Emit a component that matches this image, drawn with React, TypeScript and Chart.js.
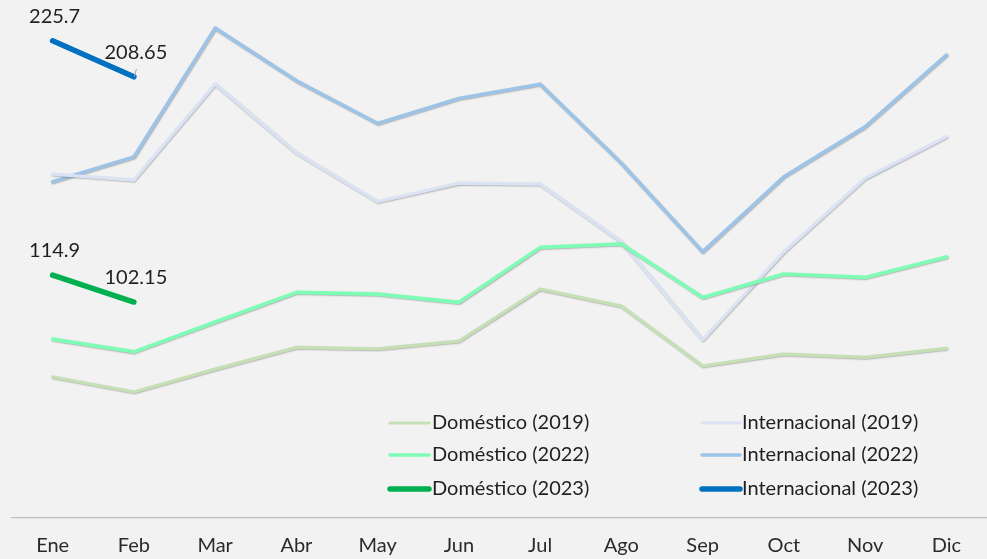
import { useEffect, useRef } from 'react';
import { Chart, registerables } from 'chart.js';

Chart.register(...registerables);

const months = ['Ene', 'Feb', 'Mar', 'Abr', 'May', 'Jun', 'Jul', 'Ago', 'Sep', 'Oct', 'Nov', 'Dic'];

const domestico2019 = [66.7, 59.6, 70.4, 80.7, 80.0, 83.7, 108.3, 100.2, 71.9, 77.5, 76.0, 80.2];
const domestico2022 = [84.6, 78.6, 92.7, 106.7, 105.9, 102.0, 128.0, 129.6, 104.3, 115.4, 113.8, 123.5];
const domestico2023 = [114.9, 102.15];
const internacional2019 = [162.6, 159.8, 205.2, 172.7, 149.6, 158.3, 157.9, 130.6, 84.2, 125.8, 160.6, 180.3];
const internacional2022 = [159.0, 170.8, 231.7, 206.8, 186.6, 198.4, 205.2, 167.8, 125.9, 161.4, 185.0, 218.9];
const internacional2023 = [225.7, 208.65];

const FONT = 'Lato, "Open Sans", sans-serif';
const TEXT = '#1f1f1f';

const legendPlugin = {
  id: 'customLegend',
  afterDraw(chart: any) {
    const ctx = chart.ctx;
    const cols = [
      { lineX0: 390, lineX1: 429, textX: 432, items: [0, 1, 2] },
      { lineX0: 702, lineX1: 740, textX: 742, items: [3, 4, 5] },
    ];
    const rows = [423, 455, 489];
    ctx.save();
    ctx.font = `20px ${FONT}`;
    ctx.textBaseline = 'middle';
    ctx.textAlign = 'left';
    cols.forEach((c) => {
      c.items.forEach((di, r) => {
        const ds = chart.data.datasets[di];
        const y = rows[r];
        ctx.strokeStyle = ds.borderColor;
        ctx.lineWidth = ds.borderWidth;
        ctx.lineCap = 'round';
        ctx.beginPath();
        ctx.moveTo(c.lineX0, y);
        ctx.lineTo(c.lineX1, y);
        ctx.stroke();
        ctx.fillStyle = TEXT;
        ctx.fillText(ds.label, c.textX, y);
      });
    });
    ctx.restore();
  },
};

const labelPlugin = {
  id: 'pointLabels',
  afterDatasetsDraw(chart: any) {
    const ctx = chart.ctx;
    ctx.save();
    ctx.font = `20px ${FONT}`;
    ctx.textAlign = 'center';
    ctx.textBaseline = 'middle';
    chart.data.datasets.forEach((ds: any, di: number) => {
      if (!ds.showLabels) return;
      const meta = chart.getDatasetMeta(di);
      meta.data.forEach((pt: any, i: number) => {
        const v = ds.data[i];
        if (ds.leader && i === 1) {
          ctx.strokeStyle = '#a6a6a6';
          ctx.lineWidth = 1;
          ctx.beginPath();
          ctx.moveTo(pt.x + 0.5, pt.y);
          ctx.lineTo(pt.x + 2.5, pt.y - 8);
          ctx.stroke();
        }
        ctx.fillStyle = TEXT;
        ctx.fillText(String(v), pt.x + 2, pt.y - 24.5);
      });
    });
    ctx.restore();
  },
};

const shadowPlugin = {
  id: 'lineShadow',
  beforeDatasetDraw(chart: any, args: any) {
    const ds = chart.data.datasets[args.index];
    const ctx = chart.ctx;
    ctx.save();
    if (ds.shadow) {
      ctx.shadowColor = 'rgba(0,0,0,0.28)';
      ctx.shadowBlur = 1.5;
      ctx.shadowOffsetX = 0.6;
      ctx.shadowOffsetY = 0.8;
    }
  },
  afterDatasetDraw(chart: any) {
    chart.ctx.restore();
  },
};

export default function App() {
  const ref = useRef<HTMLCanvasElement>(null);

  useEffect(() => {
    document.body.style.margin = '0';
    document.body.style.background = '#f2f2f2';
    const line = (label: string, data: number[], color: string, width: number, extra: any = {}) => ({
      label,
      data,
      borderColor: color,
      backgroundColor: color,
      borderWidth: width,
      pointRadius: 0,
      pointHoverRadius: 0,
      tension: 0,
      fill: false,
      borderJoinStyle: 'round',
      borderCapStyle: 'round',
      ...extra,
    });
    const chart = new Chart(ref.current!, {
      type: 'line',
      data: {
        labels: months,
        datasets: [
          line('Doméstico (2019)', domestico2019, '#c5e0b4', 3.2, { shadow: true }),
          line('Doméstico (2022)', domestico2022, '#7dfdb6', 3.6, { shadow: true }),
          line('Doméstico (2023)', domestico2023, '#00b050', 5.5, { showLabels: true }),
          line('Internacional (2019)', internacional2019, '#dae3f3', 3.2, { shadow: true }),
          line('Internacional (2022)', internacional2022, '#9dc3e6', 3.6, { shadow: true }),
          line('Internacional (2023)', internacional2023, '#0070c0', 5.5, { showLabels: true, leader: true }),
        ] as any,
      },
      options: {
        responsive: false,
        animation: false,
        layout: { padding: { left: 12, right: 0, top: 0, bottom: 0 } },
        plugins: {
          legend: { display: false },
          tooltip: { enabled: false },
        },
        scales: {
          x: {
            type: 'category',
            offset: true,
            grid: { display: false, drawTicks: false },
            border: { display: true, color: '#bfbfbf', width: 1.2 },
            ticks: {
              padding: 16,
              color: '#2b2b2b',
              font: { family: FONT, size: 20 },
              maxRotation: 0,
              autoSkip: false,
            },
            afterFit: (s: any) => {
              s.height = 41;
            },
          },
          y: {
            display: false,
            min: 0,
            max: 245,
          },
        },
      },
      plugins: [shadowPlugin, labelPlugin, legendPlugin],
    });
    return () => chart.destroy();
  }, []);

  return (
    <div style={{ width: 987, height: 559, background: '#f2f2f2' }}>
      <canvas ref={ref} width={987} height={559} style={{ display: 'block' }} />
    </div>
  );
}
